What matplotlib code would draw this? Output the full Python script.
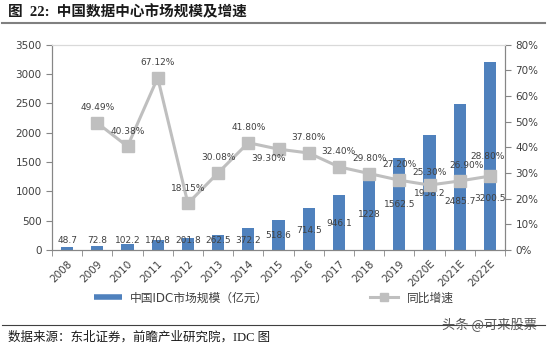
import numpy as np
import matplotlib.pyplot as plt
from matplotlib.lines import Line2D

plt.rcParams['font.family'] = ['DejaVu Sans', 'Noto Sans CJK SC']

# 数据
years = ['2008', '2009', '2010', '2011', '2012', '2013', '2014', '2015',
         '2016', '2017', '2018', '2019', '2020E', '2021E', '2022E']
market_size = [48.7, 72.8, 102.2, 170.8, 201.8, 262.5, 372.2, 518.6,
               714.5, 946.1, 1228, 1562.5, 1958.2, 2485.7, 3200.5]
growth = [np.nan, 49.49, 40.38, 67.12, 18.15, 30.08, 41.80, 39.30,
          37.80, 32.40, 29.80, 27.20, 25.30, 26.90, 28.80]

# 标签位置（柱标签的纵坐标，折线标签的偏移量）
bar_label_y = [170, 170, 170, 170, 170, 170, 170, 244, 324, 460, 597, 784, 955, 824, 870]
growth_label_offset = [(0, 0), (0, 11), (0, 11), (0, 11), (0, 11), (0, 11), (0, 11), (-7, -7),
                       (0, 11), (0, 11), (0, 11), (0, 11), (0, 9), (5, 11), (-2, 14)]

bar_color = '#4F81BD'
line_color = '#BFBFBF'
spine_color = '#868686'
text_color = '#404040'

fig = plt.figure(figsize=(5.47, 3.46), dpi=100)
ax = fig.add_axes([52 / 547, 1 - 250 / 346, 453 / 547, 205.3 / 346])
ax2 = ax.twinx()

x = np.arange(len(years))
ax.bar(x, market_size, width=0.4, color=bar_color, zorder=2)
for xi, v, ly in zip(x, market_size, bar_label_y):
    ax.text(xi, ly, f'{v:g}', ha='center', va='center', fontsize=6.5, color=text_color, zorder=5)

ax2.plot(x, growth, color=line_color, lw=2.2, marker='s', markersize=8,
         markerfacecolor=line_color, markeredgecolor=line_color, zorder=3)
for xi, v, off in zip(x, growth, growth_label_offset):
    if np.isnan(v):
        continue
    ax2.annotate(f'{v:.2f}%', (xi, v), xytext=off, textcoords='offset points',
                 ha='center', va='center', fontsize=6.5, color=text_color)

ax.set_xlim(-0.5, len(years) - 0.5)
ax.set_ylim(0, 3500)
ax.set_yticks(np.arange(0, 3501, 500))
ax2.set_ylim(0, 80)
ax2.set_yticks(np.arange(0, 81, 10))
ax2.set_yticklabels([f'{t}%' for t in range(0, 81, 10)])

ax.set_xticks(x)
ax.set_xticklabels(years, rotation=45, ha='right', rotation_mode='anchor')
ax.set_xticks(np.arange(-0.5, len(years), 1), minor=True)
ax.tick_params(axis='x', which='major', length=0, pad=6, labelsize=7.5, labelcolor=text_color)
ax.tick_params(axis='x', which='minor', length=4, color=spine_color, direction='out')
ax.tick_params(axis='y', length=4, color=spine_color, labelsize=7.5, labelcolor=text_color)
ax2.tick_params(axis='y', length=4, color=spine_color, labelsize=7.5, labelcolor=text_color)

for a in (ax, ax2):
    for s in ('left', 'right', 'bottom'):
        a.spines[s].set_color(spine_color)
        a.spines[s].set_linewidth(0.8)
    a.spines['top'].set_color('#D9D9D9')
    a.spines['top'].set_linewidth(0.8)

# 图例
handles = [Line2D([], [], color=bar_color, lw=4, solid_capstyle='butt'),
           Line2D([], [], color=line_color, lw=2.2, marker='s', markersize=6)]
fig.legend(handles, ['中国IDC市场规模（亿元）', '同比增速'], loc='center',
           bbox_to_anchor=(0.50, 1 - 298 / 346), ncol=2, frameon=False,
           fontsize=8.5, handlelength=2.4, handletextpad=0.7, columnspacing=8.6,
           labelcolor=text_color)

# 标题与来源
fig.text(8 / 547, 1 - 12 / 346, '图  22:  中国数据中心市场规模及增速', fontsize=10.5,
         fontweight='bold', family=['Liberation Serif', 'Noto Sans CJK SC'],
         ha='left', va='center', color='#1a1a1a')
fig.add_artist(Line2D([2 / 547, 545 / 547], [1 - 22.5 / 346] * 2, color='#808080', lw=1.5,
                      transform=fig.transFigure))
fig.add_artist(Line2D([2 / 547, 545 / 547], [1 - 325 / 346] * 2, color='#404040', lw=0.8,
                      transform=fig.transFigure))
fig.text(8 / 547, 1 - 337 / 346, '数据来源：东北证券，前瞻产业研究院，IDC 图', fontsize=9,
         family=['Liberation Serif', 'Noto Sans CJK SC'], ha='left', va='center', color='#1a1a1a')
fig.text(537 / 547, 1 - 325 / 346, '头条 @可来股票', fontsize=9.5, ha='right', va='center',
         color='#555555', family=['Noto Sans CJK SC'])

fig.savefig('out.png', dpi=100)
